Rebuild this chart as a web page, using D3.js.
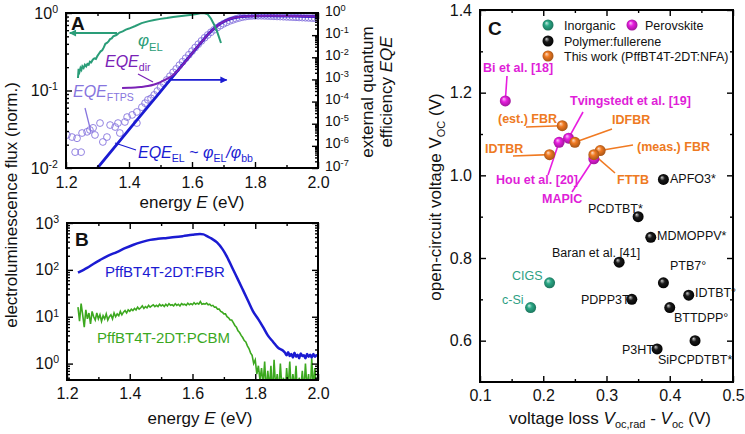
<!DOCTYPE html>
<html><head><meta charset="utf-8">
<script src="https://cdn.jsdelivr.net/npm/d3@7"></script>
<style>body{margin:0;background:#fff}svg{display:block}</style>
</head><body>
<script>
// ================= DATA =================
// Panel A : electroluminescence (left axis) and EQE (right axis)
const phiE = [1.238,1.240,1.243,1.246,1.249,1.252,1.256,1.260,1.264,1.268,1.272,1.276,1.280,1.285,1.290,1.295,1.300,1.305,1.310,1.315,1.320,1.325,1.330,1.335,1.340,1.345,1.350,1.360,1.370,1.380,1.390,1.400,1.420,1.440,1.460,1.480,1.500,1.520,1.540,1.560,1.580,1.600,1.615,1.630,1.640,1.650,1.660,1.670,1.680,1.692];
const phiEL = [0.145,0.19,0.175,0.195,0.185,0.205,0.195,0.215,0.205,0.22,0.215,0.235,0.23,0.25,0.26,0.255,0.28,0.30,0.32,0.33,0.36,0.40,0.41,0.43,0.46,0.47,0.50,0.52,0.56,0.58,0.61,0.63,0.68,0.74,0.78,0.81,0.84,0.86,0.89,0.91,0.93,0.95,0.97,1.0,0.99,0.96,0.85,0.71,0.57,0.41];

const eqeElE = [1.30,1.40,1.50,1.60,1.63,1.65,1.67,1.69,1.71,1.73,1.76,1.80,1.85,1.90,1.95,2.00];
const eqeEl  = [1.0e-7,5.4e-6,2.8e-4,1.5e-2,4.8e-2,0.105,0.20,0.33,0.47,0.59,0.69,0.74,0.74,0.73,0.71,0.69];

const eqeDirE = [1.378,1.40,1.42,1.44,1.46,1.48,1.50,1.52,1.54,1.56,1.58,1.60,1.63,1.65,1.67,1.69,1.71,1.73,1.76,1.80,1.85,1.90,1.95,2.00];
const eqeDir  = [4.1e-4,4.2e-4,4.3e-4,4.6e-4,5.0e-4,5.9e-4,7.6e-4,1.05e-3,1.6e-3,3.0e-3,6.6e-3,1.5e-2,4.8e-2,0.105,0.20,0.33,0.47,0.59,0.69,0.74,0.75,0.74,0.72,0.69];

const ftpsE = [1.203,1.219,1.235,1.229,1.248,1.251,1.267,1.276,1.286,1.308,1.292,1.317,1.330,1.340,1.356,1.365,1.371,1.387,1.394,1.410,1.425,1.425,1.441,1.451,1.460,
  1.47,1.48,1.49,1.50,1.51,1.52,1.53,1.54,1.55,1.56,1.57,1.58,1.59,1.60,1.61,1.62,1.63,1.64,1.65,1.66,1.67,1.68,1.69,1.70,1.71,1.72,1.73,1.74,1.75,1.76,1.77,1.78,1.79,1.80,1.81,1.82,1.83,1.84,1.85,1.86,1.87,1.88,1.89,1.90,1.91,1.92,1.93,1.94,1.95,1.96,1.97,1.98,1.99,2.00];
const ftps = [3.1e-6,2.5e-6,2.2e-6,5.2e-7,5.2e-7,3.8e-6,4.3e-6,5.2e-6,6.5e-6,1.07e-5,3.1e-6,1.5e-6,2.5e-6,8.7e-6,7.1e-6,1.07e-5,3.8e-6,1.2e-5,2.0e-5,2.5e-5,1.07e-5,3.4e-5,5.6e-5,8.5e-5,1.2e-4,
  1.4e-4,2.0e-4,3.0e-4,4.5e-4,6.6e-4,9.5e-4,1.4e-3,2.1e-3,3.0e-3,4.4e-3,6.3e-3,9.1e-3,1.3e-2,1.9e-2,2.75e-2,3.9e-2,5.5e-2,7.6e-2,0.102,0.135,0.174,0.219,0.269,0.324,0.38,0.44,0.49,0.55,0.60,0.65,0.69,0.72,0.74,0.75,0.75,0.75,0.74,0.73,0.72,0.71,0.70,0.69,0.68,0.67,0.66,0.65,0.64,0.63,0.62,0.61,0.60,0.59,0.58,0.57];

// Panel B : EL spectra
const fbrE = [1.235,1.25,1.264,1.285,1.305,1.33,1.359,1.385,1.41,1.44,1.465,1.49,1.519,1.545,1.57,1.60,1.624,1.635,1.646,1.66,1.678,1.695,1.71,1.729,1.745,1.761,1.777,1.793,1.81,1.825,1.84,1.857,1.872,1.888,1.895,1.90,1.905,1.91,1.915,1.92,1.925,1.93,1.935,1.94,1.945,1.95,1.955,1.96,1.965,1.97,1.975,1.98,1.985,1.99,1.995,2.0];
const fbr  = [87,98,110,135,162,200,240,290,340,395,436,460,480,500,525,560,580,572,525,470,385,280,190,103,62,37,22,13,8.8,6.0,4.0,2.9,2.2,1.9,1.7,1.5,1.75,1.45,1.6,1.35,1.7,1.4,1.55,1.3,1.65,1.45,1.5,1.3,1.6,1.4,1.55,1.35,1.6,1.4,1.5,1.45];
const pcbmStartE = 1.235, pcbmStepE = 0.005;
const pcbm = [
  16,8,19,11,6,14,9,12,7,13,
  10,8.5,12,9,11,8,10.5,9,11.5,8.5,
  10,11,9,12,10,11.5,10.5,13,11,12.5,
  13.5,12,14,13,14.5,13.5,15,14,16,14.5,
  15.5,17,15,16.5,15.5,17.5,16,17,18,16.5,
  17.5,16.5,18.5,17,18,16.5,18.5,17,19,17.5,
  18,17,19,17.5,18.5,17,19,18,18.5,17.5,
  19.5,18,19,18,20,18.5,19.5,18.5,21,18.5,
  19,18.5,19.5,18,18.5,17,17.5,16,16,14.5,
  14.5,13,12.5,11.5,11.5,10,9.5,8.5,8.5,7.5,
  6.5,6,5,4.6,4,3.6,3.1,2.9,2.4,2.1,
  1.7,1.5,1.0,1.2,0.6,0.9,0.45,0.8,0.35,1.1,
  0.25,0.7,0.3,0.9,0.2,1.2,0.3,0.6,0.25,1.0,
  0.3,0.5,0.2,0.8,0.3,1.1,0.25,0.6,0.3,0.9,
  0.2,0.5,0.3,0.7,0.25,1.0,0.3,0.6,0.2,1.3,
  0.3,0.8,0.25,0.5];

// Panel C : Voc vs voltage loss
const cNames = ["c-Si","CIGS","Bi et al. [18]","Tvingstedt et al. [19]","Hou et al. [20]","MAPIC","(est.) FBR","IDFBR","IDTBR","(meas.) FBR","FTTB","APFO3*","PCDTBT*","MDMOPPV*","Baran et al. [41]","PTB7°","IDTBT°","PDPP3T","BTTDPP°","SiPCPDTBT*","P3HT"];
const cLoss  = [0.18,0.21,0.14,0.24,0.225,0.28,0.23,0.25,0.21,0.29,0.28,0.39,0.35,0.37,0.32,0.39,0.43,0.34,0.40,0.44,0.38];
const cVoc   = [0.68,0.74,1.18,1.09,1.08,1.04,1.12,1.08,1.05,1.06,1.05,0.99,0.90,0.85,0.79,0.74,0.71,0.70,0.68,0.60,0.58];
const cGroup = ["Inorganic","Inorganic","Perovskite","Perovskite","Perovskite","Perovskite","This work","This work","This work","This work","This work","Polymer","Polymer","Polymer","Polymer","Polymer","Polymer","Polymer","Polymer","Polymer","Polymer"];
const legendLabels = ["Inorganic","Perovskite","Polymer:fullerene","This work (PffBT4T-2DT:NFA)"];
const legendGroups = ["Inorganic","Perovskite","Polymer","This work"];

// ================= STYLE / LAYOUT =================
const FONT = "'Liberation Sans', Arial, Helvetica, sans-serif";
const TEAL = "#2a9d78", PURPLE = "#7a22b6", LAV = "#8775de", BLUE = "#1b1bd2", GREEN = "#3ca81f";
const groupColor = {"Inorganic":"#2aa886","Perovskite":"#e81ee0","Polymer":"#1a1a1a","This work":"#f07a22"};
const groupText = {"Inorganic":"#2e9f84","Perovskite":"#e01ed8","Polymer":"#111","This work":"#ee7a22"};

const svg = d3.select("body").append("svg").attr("width",745).attr("height",434)
  .attr("font-family", FONT);
const defs = svg.append("defs");

function styleAxis(a, fs){
  a.attr("font-family", FONT).attr("font-size", fs);
  a.select(".domain").remove();
  a.selectAll(".tick line").attr("stroke","#000").attr("stroke-width",1.4);
  a.selectAll(".tick text").attr("fill","#111");
  return a;
}
function addAxis(g, axis, tr, fs, labels){
  const a = g.append("g").attr("transform", tr).call(axis);
  styleAxis(a, fs);
  if(!labels) a.selectAll(".tick text").remove();
  return a;
}
function supLabels(a){
  a.selectAll(".tick text").each(function(d){
    const e = Math.round(Math.log10(d));
    const t = d3.select(this); t.text(null);
    t.append("tspan").text("10");
    t.append("tspan").attr("dy","-0.55em").attr("font-size","0.66em").text(e);
  });
}
function logMinor(lo, hi){ // minor tick positions for a log axis
  const v=[]; for(let k=Math.floor(Math.log10(lo)); k<Math.ceil(Math.log10(hi)); k++)
    for(let m=2;m<=9;m++){ const x=m*Math.pow(10,k); if(x>=lo && x<=hi) v.push(x);} return v;
}
function rich(g, x, y, parts, fs, color, extra){
  const t = g.append("text").attr("x",x).attr("y",y).attr("font-size",fs).attr("fill",color);
  let shift=0;
  parts.forEach(p=>{
    const s=t.append("tspan").text(p.t);
    if(p.i) s.attr("font-style","italic");
    const target = p.sub? fs*0.28 : 0;
    if(target!==shift){ s.attr("dy", target-shift); shift=target; }
    if(p.sub) s.attr("font-size", fs*0.66);
  });
  if(extra) extra(t);
  return t;
}
function frame(g, x0,x1,y0,y1){
  g.append("rect").attr("x",x0).attr("y",y0).attr("width",x1-x0).attr("height",y1-y0)
   .attr("fill","none").attr("stroke","#000").attr("stroke-width",2);
}
function arrowMarker(id, color){
  defs.append("marker").attr("id",id).attr("viewBox","0 0 10 10").attr("refX",9).attr("refY",5)
    .attr("markerWidth",9).attr("markerHeight",7).attr("markerUnits","userSpaceOnUse").attr("orient","auto")
    .append("path").attr("d","M0,0 L10,5 L0,10 z").attr("fill",color);
}
arrowMarker("arTeal", TEAL); arrowMarker("arBlue", BLUE);

// ================= PANEL A =================
const gA = svg.append("g");
const xA = d3.scaleLinear().domain([1.2,2.0]).range([66,318]);
const yAL = d3.scaleLog().domain([1e-2,1]).range([168,13]);
const yAR = d3.scaleLog().domain([1e-7,1]).range([168,13]);
defs.append("clipPath").attr("id","clipA").append("rect").attr("x",66).attr("y",13).attr("width",252).attr("height",155);

const pA = gA.append("g").attr("clip-path","url(#clipA)");
// FTPS circles
pA.selectAll("circle.ftps").data(d3.zip(ftpsE, ftps)).join("circle").attr("class","ftps")
  .attr("cx",d=>xA(d[0])).attr("cy",d=>yAR(d[1])).attr("r",3.4)
  .attr("fill","none").attr("stroke",LAV).attr("stroke-width",0.9);
const lineAR = d3.line().x(d=>xA(d[0])).y(d=>yAR(d[1])).curve(d3.curveMonotoneX);
pA.append("path").datum(d3.zip(eqeElE, eqeEl)).attr("d",lineAR).attr("fill","none").attr("stroke",BLUE).attr("stroke-width",2.8);
pA.append("path").datum(d3.zip(eqeDirE, eqeDir)).attr("d",lineAR).attr("fill","none").attr("stroke",PURPLE).attr("stroke-width",2);
pA.append("path").datum(d3.zip(phiE, phiEL)).attr("d", d3.line().x(d=>xA(d[0])).y(d=>yAL(d[1])))
  .attr("fill","none").attr("stroke",TEAL).attr("stroke-width",2);

// arrows
gA.append("line").attr("x1",xA(1.362)).attr("x2",xA(1.212)).attr("y1",yAL(0.55)).attr("y2",yAL(0.55))
  .attr("stroke",TEAL).attr("stroke-width",2).attr("marker-end","url(#arTeal)");
gA.append("line").attr("x1",xA(1.530)).attr("x2",xA(1.71)).attr("y1",yAL(0.137)).attr("y2",yAL(0.137))
  .attr("stroke",BLUE).attr("stroke-width",1.6).attr("marker-end","url(#arBlue)");

// labels A
rich(gA, 138, 46, [{t:"φ",i:true},{t:"EL",sub:true}], 17, TEAL);
rich(gA, 105, 67, [{t:"EQE",i:true},{t:"dir",sub:true}], 16, PURPLE);
gA.append("line").attr("x1",138).attr("y1",74).attr("x2",153).attr("y2",82).attr("stroke",PURPLE).attr("stroke-width",1.3);
rich(gA, 73, 97, [{t:"EQE",i:true},{t:"FTPS",sub:true}], 16, LAV);
gA.append("line").attr("x1",85).attr("y1",108).attr("x2",91).attr("y2",132).attr("stroke",LAV).attr("stroke-width",1.3);
rich(gA, 138, 158, [{t:"EQE",i:true},{t:"EL",sub:true},{t:" ~ "},{t:"φ",i:true},{t:"EL",sub:true},{t:"/",i:true},{t:"φ",i:true},{t:"bb",sub:true}], 16, BLUE);
gA.append("line").attr("x1",115).attr("y1",143).attr("x2",136).attr("y2",150).attr("stroke",BLUE).attr("stroke-width",1.3);
gA.append("text").attr("x",71).attr("y",30).attr("font-size",19).attr("font-weight","bold").attr("fill","#111").text("A");

// axes A
addAxis(gA, d3.axisBottom(xA).tickValues([1.2,1.4,1.6,1.8,2.0]).tickFormat(d3.format(".1f")).tickSizeInner(-6).tickSizeOuter(0).tickPadding(9), "translate(0,168)", 16, true);
addAxis(gA, d3.axisBottom(xA).tickValues([1.3,1.5,1.7,1.9]).tickSizeInner(-3).tickSizeOuter(0), "translate(0,168)", 16, false);
addAxis(gA, d3.axisTop(xA).tickValues([1.2,1.4,1.6,1.8,2.0]).tickSizeInner(-6).tickSizeOuter(0), "translate(0,13)", 16, false);
addAxis(gA, d3.axisTop(xA).tickValues([1.3,1.5,1.7,1.9]).tickSizeInner(-3).tickSizeOuter(0), "translate(0,13)", 16, false);
supLabels(addAxis(gA, d3.axisLeft(yAL).tickValues([1e-2,1e-1,1]).tickSizeInner(-6).tickSizeOuter(0).tickPadding(8), "translate(66,0)", 16, true));
addAxis(gA, d3.axisLeft(yAL).tickValues(logMinor(1e-2,1)).tickSizeInner(-3).tickSizeOuter(0), "translate(66,0)", 16, false);
const rAx = addAxis(gA, d3.axisRight(yAR).tickValues([1e-7,1e-6,1e-5,1e-4,1e-3,1e-2,1e-1,1]).tickSizeInner(-6).tickSizeOuter(0).tickPadding(7), "translate(318,0)", 14, true);
supLabels(rAx);
rAx.selectAll(".tick text").attr("dy","0.15em");
addAxis(gA, d3.axisRight(yAR).tickValues(logMinor(1e-7,1)).tickSizeInner(-3).tickSizeOuter(0), "translate(318,0)", 14, false);
frame(gA, 66, 318, 13, 168);
gA.append("text").attr("x",192).attr("y",208).attr("text-anchor","middle").attr("font-size",17).attr("fill","#111")
  .call(t=>{t.append("tspan").text("energy "); t.append("tspan").attr("font-style","italic").text("E"); t.append("tspan").text(" (eV)");});
// right title
const rt = gA.append("g").attr("transform","translate(373,92) rotate(-90)");
rt.append("text").attr("text-anchor","middle").attr("font-size",17).attr("fill","#111").text("external quantum");
rt.append("text").attr("y",19).attr("text-anchor","middle").attr("font-size",17).attr("fill","#111")
  .call(t=>{t.append("tspan").text("efficiency "); t.append("tspan").attr("font-style","italic").text("EQE");});

// ================= PANEL B =================
const gB = svg.append("g");
const xB = d3.scaleLinear().domain([1.2,2.0]).range([67,318]);
const yB = d3.scaleLog().domain([Math.pow(10,-0.35),1000]).range([380,223]);
defs.append("clipPath").attr("id","clipB").append("rect").attr("x",67).attr("y",223).attr("width",251).attr("height",157);
const pB = gB.append("g").attr("clip-path","url(#clipB)");
const pcbmData = pcbm.map((v,i)=>[pcbmStartE + i*pcbmStepE, v]);
pB.append("path").datum(pcbmData).attr("d", d3.line().x(d=>xB(d[0])).y(d=>yB(d[1])))
  .attr("fill","none").attr("stroke",GREEN).attr("stroke-width",1.6);
pB.append("path").datum(d3.zip(fbrE, fbr)).attr("d", d3.line().x(d=>xB(d[0])).y(d=>yB(d[1])).curve(d3.curveMonotoneX))
  .attr("fill","none").attr("stroke",BLUE).attr("stroke-width",2.5);
gB.append("text").attr("x",105).attr("y",277).attr("font-size",15).attr("fill",BLUE).text("PffBT4T-2DT:FBR");
gB.append("text").attr("x",97).attr("y",343).attr("font-size",15).attr("fill",GREEN).text("PffBT4T-2DT:PCBM");
gB.append("text").attr("x",75).attr("y",246).attr("font-size",19).attr("font-weight","bold").attr("fill","#111").text("B");

addAxis(gB, d3.axisBottom(xB).tickValues([1.2,1.4,1.6,1.8,2.0]).tickFormat(d3.format(".1f")).tickSizeInner(-6).tickSizeOuter(0).tickPadding(8), "translate(0,380)", 16, true);
addAxis(gB, d3.axisBottom(xB).tickValues([1.3,1.5,1.7,1.9]).tickSizeInner(-3).tickSizeOuter(0), "translate(0,380)", 16, false);
addAxis(gB, d3.axisTop(xB).tickValues([1.2,1.4,1.6,1.8,2.0]).tickSizeInner(-6).tickSizeOuter(0), "translate(0,223)", 16, false);
addAxis(gB, d3.axisTop(xB).tickValues([1.3,1.5,1.7,1.9]).tickSizeInner(-3).tickSizeOuter(0), "translate(0,223)", 16, false);
supLabels(addAxis(gB, d3.axisLeft(yB).tickValues([1,10,100,1000]).tickSizeInner(-6).tickSizeOuter(0).tickPadding(8), "translate(67,0)", 16, true));
addAxis(gB, d3.axisLeft(yB).tickValues(logMinor(0.45,1000)).tickSizeInner(-3).tickSizeOuter(0), "translate(67,0)", 16, false);
addAxis(gB, d3.axisRight(yB).tickValues([1,10,100,1000]).tickSizeInner(-6).tickSizeOuter(0), "translate(318,0)", 16, false);
addAxis(gB, d3.axisRight(yB).tickValues(logMinor(0.45,1000)).tickSizeInner(-3).tickSizeOuter(0), "translate(318,0)", 16, false);
frame(gB, 67, 318, 223, 380);
gB.append("text").attr("x",200).attr("y",424).attr("text-anchor","middle").attr("font-size",17).attr("fill","#111")
  .call(t=>{t.append("tspan").text("energy "); t.append("tspan").attr("font-style","italic").text("E"); t.append("tspan").text(" (eV)");});

// shared left title
svg.append("text").attr("transform","translate(17,205) rotate(-90)").attr("text-anchor","middle")
  .attr("font-size",17).attr("fill","#111").text("electroluminescence flux (norm.)");

// ================= PANEL C =================
const gC = svg.append("g");
const xC = d3.scaleLinear().domain([0.1,0.5]).range([480,733]);
const yC = d3.scaleLinear().domain([0.5,1.4]).range([382,10]);

Object.entries(groupColor).forEach(([k,c],i)=>{
  const id="sph"+i; groupColor[k+"_id"]=id;
  const rg = defs.append("radialGradient").attr("id",id).attr("cx","50%").attr("cy","50%").attr("r","55%").attr("fx","35%").attr("fy","30%");
  const light = k==="Polymer" ? "#cfcfcf" : d3.interpolateRgb(c,"#fff")(0.75);
  rg.append("stop").attr("offset","0%").attr("stop-color",light);
  rg.append("stop").attr("offset","40%").attr("stop-color",c);
  rg.append("stop").attr("offset","100%").attr("stop-color", k==="Polymer"?"#000":d3.color(c).darker(1.2));
});

addAxis(gC, d3.axisBottom(xC).tickValues([0.1,0.2,0.3,0.4,0.5]).tickFormat(d3.format(".1f")).tickSizeInner(-6).tickSizeOuter(0).tickPadding(8), "translate(0,382)", 16, true);
addAxis(gC, d3.axisBottom(xC).tickValues([0.15,0.25,0.35,0.45]).tickSizeInner(-3).tickSizeOuter(0), "translate(0,382)", 16, false);
addAxis(gC, d3.axisTop(xC).tickValues([0.1,0.2,0.3,0.4,0.5]).tickSizeInner(-6).tickSizeOuter(0), "translate(0,10)", 16, false);
addAxis(gC, d3.axisTop(xC).tickValues([0.15,0.25,0.35,0.45]).tickSizeInner(-3).tickSizeOuter(0), "translate(0,10)", 16, false);
addAxis(gC, d3.axisLeft(yC).tickValues([0.6,0.8,1.0,1.2,1.4]).tickFormat(d3.format(".1f")).tickSizeInner(-6).tickSizeOuter(0).tickPadding(8), "translate(480,0)", 16, true);
addAxis(gC, d3.axisLeft(yC).tickValues([0.7,0.9,1.1,1.3]).tickSizeInner(-3).tickSizeOuter(0), "translate(480,0)", 16, false);
addAxis(gC, d3.axisRight(yC).tickValues([0.6,0.8,1.0,1.2,1.4]).tickSizeInner(-6).tickSizeOuter(0), "translate(733,0)", 16, false);
addAxis(gC, d3.axisRight(yC).tickValues([0.7,0.9,1.1,1.3]).tickSizeInner(-3).tickSizeOuter(0), "translate(733,0)", 16, false);

// point labels (layout)
const labelPos = {
  "Bi et al. [18]":[483,71.5,507,76], "Tvingstedt et al. [19]":[570,105,583,112], "(est.) FBR":[498,123,526,127],
  "IDFBR":[612,124,612,129], "(meas.) FBR":[637,151,633,145], "IDTBR":[485,153,513,156],
  "Hou et al. [20]":[496,184,548,175], "FTTB":[617,184,615,173], "MAPIC":[542,203,572,192],
  "APFO3*":[670,183], "PCDTBT*":[588,213], "MDMOPPV*":[657,240], "Baran et al. [41]":[552,257],
  "PTB7°":[670,270], "IDTBT°":[695,297], "PDPP3T":[581,304], "BTTDPP°":[674,322], "P3HT":[622,354],
  "SiPCPDTBT*":[658,364], "CIGS":[512,280], "c-Si":[502,304]
};
const pts = cNames.map((n,i)=>({n, x:cLoss[i], y:cVoc[i], g:cGroup[i]}));
pts.forEach(p=>{
  const L = labelPos[p.n]; const bold = (p.g==="Perovskite"||p.g==="This work");
  if(L.length>2){
    gC.append("line").attr("x1",L[2]).attr("y1",L[3]).attr("x2",xC(p.x)).attr("y2",yC(p.y))
      .attr("stroke",groupColor[p.g]).attr("stroke-width",1.6);
  }
  gC.append("text").attr("x",L[0]).attr("y",L[1]).attr("font-size",12.5).attr("font-weight",bold?"bold":"normal")
    .attr("fill",groupText[p.g]).text(p.n);
});
const order = ["Inorganic","Perovskite","This work","Polymer"];
gC.selectAll("circle.pt").data(pts.slice().sort((a,b)=>order.indexOf(a.g)-order.indexOf(b.g))).join("circle").attr("class","pt")
  .attr("cx",d=>xC(d.x)).attr("cy",d=>yC(d.y)).attr("r",5.5).attr("fill",d=>`url(#${groupColor[d.g+"_id"]})`);

// legend
const legPos = [[548,25,564,30],[632,25,645,30],[548,41,564,46],[548,56,564,61]];
legendLabels.forEach((l,i)=>{
  const P=legPos[i];
  gC.append("circle").attr("cx",P[0]).attr("cy",P[1]).attr("r",5.5).attr("fill",`url(#${groupColor[legendGroups[i]+"_id"]})`);
  gC.append("text").attr("x",P[2]).attr("y",P[3]).attr("font-size",12.5).attr("fill","#111").text(l);
});
gC.append("text").attr("x",488).attr("y",35).attr("font-size",19).attr("font-weight","bold").attr("fill","#111").text("C");
frame(gC, 480, 733, 10, 382);

// axis titles C
gC.append("text").attr("x",610).attr("y",424).attr("text-anchor","middle").attr("font-size",17).attr("fill","#111")
  .call(t=>{
    t.append("tspan").text("voltage loss ");
    t.append("tspan").attr("font-style","italic").text("V");
    t.append("tspan").attr("font-size",11).attr("dy",4).text("oc,rad");
    t.append("tspan").attr("dy",-4).text(" - ");
    t.append("tspan").attr("font-style","italic").text("V");
    t.append("tspan").attr("font-size",11).attr("dy",4).text("oc");
    t.append("tspan").attr("dy",-4).text(" (V)");
  });
gC.append("text").attr("transform","translate(441,197) rotate(-90)").attr("text-anchor","middle").attr("font-size",17).attr("fill","#111")
  .call(t=>{
    t.append("tspan").text("open-circuit voltage V");
    t.append("tspan").attr("font-size",11).attr("dy",4).text("OC");
    t.append("tspan").attr("dy",-4).text(" (V)");
  });
</script>
</body></html>
